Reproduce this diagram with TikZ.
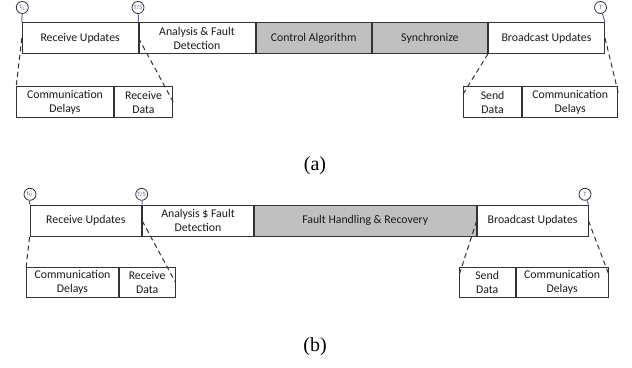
\documentclass[tikz,border=0pt]{standalone}
\usepackage{fontspec}
\setmainfont{Carlito}
\newfontfamily\capfont{Liberation Serif}
\usetikzlibrary{calc}
\definecolor{tickpurple}{RGB}{105,95,160}
\definecolor{busygray}{RGB}{192,192,192}
\begin{document}
\begin{tikzpicture}[x=1pt,y=-1pt,
  cell/.style={draw=black!80, line width=1pt, inner sep=0pt, align=center,
    minimum height=30.6pt, font=\fontsize{11.8}{14}\selectfont, text=black!90},
  busy/.style={cell, fill=busygray},
  subcell/.style={cell, minimum height=30.3pt},
  tick/.style={circle, draw=black!80, line width=0.8pt, minimum size=12pt,
    inner sep=0pt, font=\fontsize{6.5}{7}\selectfont, text=tickpurple},
  tickline/.style={draw=tickpurple, line width=1pt},
  zoomline/.style={draw=black!80, line width=1pt, dash pattern=on 5pt off 3.5pt},
  caption/.style={font=\capfont\fontsize{20}{24}\selectfont}]
\useasboundingbox (0,0) rectangle (632,367);

% ---------- (a) ----------
\node[cell, minimum width=115.7pt] (a1) at (80.15,38) {Receive Updates};
\node[cell, minimum width=116pt, anchor=west] (a2) at (a1.east) {Analysis \& Fault\\Detection};
\node[busy, minimum width=115.3pt, anchor=west] (a3) at (a2.east) {Control Algorithm};
\node[busy, minimum width=115.2pt, anchor=west] (a4) at (a3.east) {Synchronize};
\node[cell, minimum width=116pt, anchor=west] (a5) at (a4.east) {Broadcast Updates};

\node[subcell, minimum width=96.6pt] (la1) at (65,102) {Communication\\Delays};
\node[subcell, minimum width=58.4pt, anchor=west] (la2) at (la1.east) {Receive\\Data};
\node[subcell, minimum width=58.2pt] (ra1) at (492.6,102) {Send\\Data};
\node[subcell, minimum width=95pt, anchor=west] (ra2) at (ra1.east) {Communication\\Delays};

\node[tick] (ta0) at (22.3,7.5) {t$_0$};
\node[tick] (ta5) at (138,7.5) {T/5};
\node[tick] (taT) at (600.5,7.5) {T};
\draw[tickline] (ta0) -- (a1.north west);
\draw[tickline] (ta5) -- (a1.north east);
\draw[tickline] (taT) -- (a5.north east);

\draw[zoomline] (a1.west) -- (la1.north west);
\draw[zoomline] (a1.east) -- (la2.east);
\draw[zoomline] (a5.south west) -- ($(ra1.north west)!0.25!(ra1.south west)$);
\draw[zoomline] (a5.east) -- ($(ra2.north east)!0.2!(ra2.south east)$);

\node[caption] (capa) at (315,166) {(a)};

% ---------- (b) ----------
\node[cell, minimum height=31.7pt, minimum width=111.7pt] (b1) at (85.85,220.85) {Receive Updates};
\node[cell, minimum height=31.7pt, minimum width=110.6pt, anchor=west] (b2) at (b1.east) {Analysis \$ Fault\\Detection};
\node[busy, minimum height=31.7pt, minimum width=221.9pt, anchor=west] (b3) at (b2.east) {Fault Handling \& Recovery};
\node[cell, minimum height=31.7pt, minimum width=110.8pt, anchor=west] (b4) at (b3.east) {Broadcast Updates};

\node[subcell, minimum height=30pt, minimum width=91.6pt] (lb1) at (72.5,282.3) {Communication\\Delays};
\node[subcell, minimum height=30pt, minimum width=55.7pt, anchor=west] (lb2) at (lb1.east) {Receive\\Data};
\node[subcell, minimum height=30pt, minimum width=55.7pt] (rb1) at (487.15,282.3) {Send\\Data};
\node[subcell, minimum height=30pt, minimum width=92.3pt, anchor=west] (rb2) at (rb1.east) {Communication\\Delays};

\node[tick] (tb0) at (30,194.3) {t$_0$};
\node[tick] (tb5) at (141.7,194.3) {T/5};
\node[tick] (tbT) at (585,194.3) {T};
\draw[tickline] (tb0) -- (b1.north west);
\draw[tickline] (tb5) -- (b1.north east);
\draw[tickline] (tbT) -- (b4.north east);

\draw[zoomline] (b1.south west) -- (lb1.north west);
\draw[zoomline] (b1.east) -- (lb2.east);
\draw[zoomline] (b4.west) -- ($(rb1.north west)!0.3!(rb1.south west)$);
\draw[zoomline] (b4.east) -- ($(rb2.north east)!0.25!(rb2.south east)$);

\node[caption] (capb) at (315,347) {(b)};
\end{tikzpicture}
\end{document}
